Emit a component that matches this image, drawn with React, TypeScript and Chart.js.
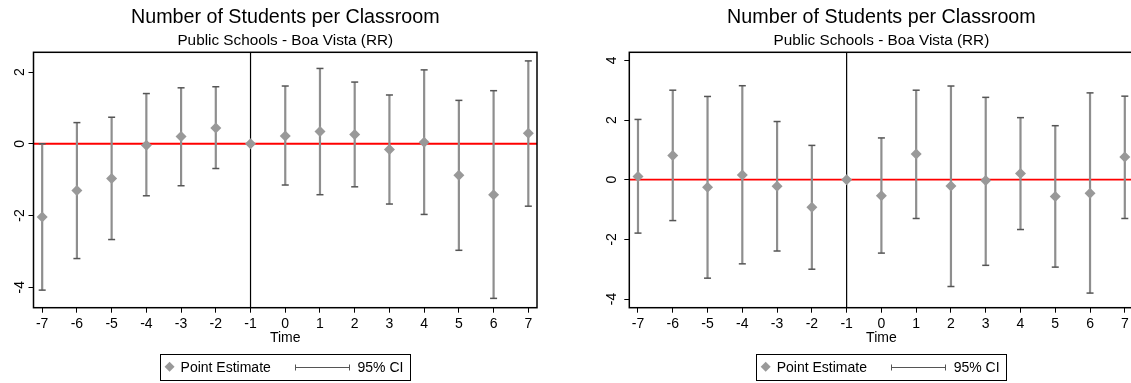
import React, { useEffect, useRef } from 'react';
import { Chart, registerables } from 'chart.js';

Chart.register(...registerables);

// ---------- data ----------
const times = [-7, -6, -5, -4, -3, -2, -1, 0, 1, 2, 3, 4, 5, 6, 7];
const xTicks = [-7, -6, -5, -4, -3, -2, -1, 0, 1, 2, 3, 4, 5, 6, 7];

const leftEst = [-2.04, -1.30, -0.97, -0.04, 0.20, 0.44, 0, 0.22, 0.34, 0.26, -0.16, 0.04, -0.88, -1.42, 0.29];
const leftLo = [-4.08, -3.20, -2.67, -1.45, -1.17, -0.69, null, -1.15, -1.42, -1.20, -1.68, -1.97, -2.97, -4.31, -1.74];
const leftHi = [0.00, 0.59, 0.74, 1.40, 1.56, 1.59, null, 1.61, 2.10, 1.72, 1.36, 2.06, 1.21, 1.48, 2.31];
const leftYTicks = [-4, -2, 0, 2];

const rightEst = [0.11, 0.81, -0.25, 0.16, -0.22, -0.92, 0, -0.54, 0.86, -0.21, -0.03, 0.21, -0.56, -0.45, 0.76];
const rightLo = [-1.79, -1.37, -3.30, -2.82, -2.39, -3.00, null, -2.46, -1.30, -3.58, -2.87, -1.67, -2.93, -3.80, -1.30];
const rightHi = [2.02, 3.00, 2.79, 3.15, 1.95, 1.15, null, 1.40, 3.00, 3.14, 2.76, 2.08, 1.81, 2.91, 2.80];
const rightYTicks = [-4, -2, 0, 2, 4];

const titleText = 'Number of Students per Classroom';
const subtitleText = 'Public Schools - Boa Vista (RR)';
const xTitleText = 'Time';
const legendLabels = ['Point Estimate', '95% CI'];
const refX = -1;
const refY = 0;

const FONT = "'Liberation Sans', Arial, Helvetica, sans-serif";

type PanelProps = {
  est: number[];
  lo: (number | null)[];
  hi: (number | null)[];
  yTicks: number[];
  yMin: number;
  yMax: number;
  left: number;
  width: number;
  axisW: number;
  padRight: number;
  yLabelPad: number;
};

function Panel(p: PanelProps) {
  const ref = useRef<HTMLCanvasElement>(null);

  useEffect(() => {
    const canvas = ref.current!;
    const line = (ctx: CanvasRenderingContext2D, x1: number, y1: number, x2: number, y2: number) => {
      ctx.beginPath();
      ctx.moveTo(x1, y1);
      ctx.lineTo(x2, y2);
      ctx.stroke();
    };

    const decor = {
      id: 'decor',
      beforeDatasetsDraw(chart: any) {
        const { ctx, chartArea: a, scales } = chart;
        const x = scales.x;
        const y = scales.y;
        ctx.save();
        // reference lines
        const y0 = y.getPixelForValue(refY);
        ctx.strokeStyle = '#ff0000';
        ctx.lineWidth = 1.8;
        line(ctx, a.left, y0, a.right, y0);
        const x0 = x.getPixelForValue(refX);
        ctx.strokeStyle = '#000000';
        ctx.lineWidth = 1.2;
        line(ctx, x0, a.top, x0, a.bottom);
        // confidence intervals
        times.forEach((t, i) => {
          const l = p.lo[i];
          const h = p.hi[i];
          if (l == null || h == null) return;
          const px = x.getPixelForValue(t);
          const pl = y.getPixelForValue(l);
          const ph = y.getPixelForValue(h);
          ctx.strokeStyle = '#8e8e8e';
          ctx.lineWidth = 2.2;
          line(ctx, px, ph, px, pl);
          ctx.strokeStyle = '#555555';
          ctx.lineWidth = 1.5;
          line(ctx, px - 3.5, ph, px + 3.5, ph);
          line(ctx, px - 3.5, pl, px + 3.5, pl);
        });
        ctx.restore();
      },
      afterDraw(chart: any) {
        const { ctx, chartArea: a } = chart;
        const cx = (a.left + a.right) / 2;
        ctx.save();
        // frame
        ctx.strokeStyle = '#000000';
        ctx.lineWidth = 1.5;
        ctx.strokeRect(a.left, a.top, a.right - a.left, a.bottom - a.top);
        // titles
        ctx.fillStyle = '#000000';
        ctx.textAlign = 'center';
        ctx.textBaseline = 'alphabetic';
        ctx.font = `19.7px ${FONT}`;
        ctx.fillText(titleText, cx, 23.3);
        ctx.font = `15.3px ${FONT}`;
        ctx.fillText(subtitleText, cx, 45);
        ctx.font = `14px ${FONT}`;
        ctx.fillText(xTitleText, cx, 341.7);
        // legend
        const bw = 250;
        const bh = 26;
        const bx = cx - bw / 2;
        const by = 354;
        ctx.strokeStyle = '#000000';
        ctx.lineWidth = 1;
        ctx.strokeRect(Math.round(bx) + 0.5, by + 0.5, bw, bh);
        const my = by + 12.7;
        // diamond
        const dx = bx + 9.3;
        const r = 5;
        ctx.fillStyle = '#999999';
        ctx.beginPath();
        ctx.moveTo(dx, my - r);
        ctx.lineTo(dx + r, my);
        ctx.lineTo(dx, my + r);
        ctx.lineTo(dx - r, my);
        ctx.closePath();
        ctx.fill();
        ctx.fillStyle = '#000000';
        ctx.textAlign = 'left';
        ctx.font = `14px ${FONT}`;
        ctx.fillText(legendLabels[0], bx + 20.3, 371.7);
        // CI symbol
        ctx.strokeStyle = '#555555';
        ctx.lineWidth = 1;
        const l1 = Math.round(bx + 135) + 0.5;
        const l2 = Math.round(bx + 188.3) + 0.5;
        const ly = Math.round(my) + 0.5;
        line(ctx, l1, ly, l2, ly);
        line(ctx, l1, ly - 3, l1, ly + 3);
        line(ctx, l2, ly - 3, l2, ly + 3);
        ctx.fillText(legendLabels[1], bx + 197.3, 371.7);
        ctx.restore();
      },
    };

    const chart = new Chart(canvas, {
      type: 'scatter',
      data: {
        datasets: [
          {
            data: times.map((t, i) => ({ x: t, y: p.est[i] })),
            pointStyle: 'rectRot',
            pointRadius: 5.5,
            backgroundColor: '#999999',
            borderWidth: 0,
            pointBorderWidth: 0,
          } as any,
        ],
      },
      options: {
        animation: false,
        responsive: false,
        events: [],
        layout: { padding: { left: 0, right: p.padRight, top: 52.3, bottom: 0 } },
        plugins: {
          legend: { display: false },
          tooltip: { enabled: false },
          title: { display: false },
        },
        scales: {
          x: {
            type: 'linear',
            min: -7.25,
            max: 7.25,
            afterBuildTicks: (s: any) => {
              s.ticks = xTicks.map((v) => ({ value: v }));
            },
            afterFit: (s: any) => {
              s.height = 75.3;
            },
            grid: { drawOnChartArea: false, drawTicks: true, tickLength: 5, color: '#000000', lineWidth: 1 },
            border: { display: false },
            ticks: {
              color: '#000000',
              font: { family: FONT, size: 14 },
              padding: 3,
              minRotation: 0,
              maxRotation: 0,
              autoSkip: false,
              callback: (v: any) => String(v),
            },
          },
          y: {
            type: 'linear',
            min: p.yMin,
            max: p.yMax,
            afterBuildTicks: (s: any) => {
              s.ticks = p.yTicks.map((v) => ({ value: v }));
            },
            afterFit: (s: any) => {
              s.width = p.axisW;
            },
            grid: { drawOnChartArea: false, drawTicks: true, tickLength: 5, color: '#000000', lineWidth: 1 },
            border: { display: false },
            ticks: {
              color: '#000000',
              font: { family: FONT, size: 14 },
              padding: p.yLabelPad,
              minRotation: 90,
              maxRotation: 90,
              crossAlign: 'center',
              autoSkip: false,
              callback: (v: any) => String(v),
            } as any,
          },
        },
      } as any,
      plugins: [decor],
    });

    return () => chart.destroy();
  }, []);

  return (
    <canvas
      ref={ref}
      width={p.width}
      height={383}
      style={{ position: 'absolute', left: p.left, top: 0, width: p.width, height: 383 }}
    />
  );
}

export default function App() {
  return (
    <div
      style={{
        position: 'absolute',
        left: 0,
        top: 0,
        width: 1131,
        height: 383,
        overflow: 'hidden',
        background: '#ffffff',
      }}
    >
      <Panel
        est={leftEst}
        lo={leftLo}
        hi={leftHi}
        yTicks={leftYTicks}
        yMin={-4.57}
        yMax={2.55}
        left={0}
        width={570}
        axisW={33.5}
        padRight={33}
        yLabelPad={2.3}
      />
      <Panel
        est={rightEst}
        lo={rightLo}
        hi={rightHi}
        yTicks={rightYTicks}
        yMin={-4.29}
        yMax={4.27}
        left={570}
        width={600}
        axisW={59.3}
        padRight={36.5}
        yLabelPad={6.4}
      />
    </div>
  );
}
